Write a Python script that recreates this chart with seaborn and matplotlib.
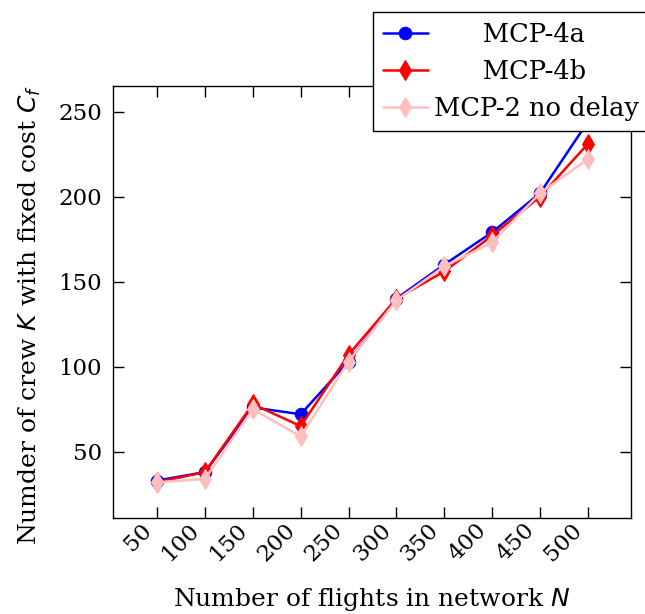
import matplotlib
matplotlib.use("Agg")
import matplotlib.pyplot as plt
import matplotlib.transforms as mtransforms
import seaborn as sns
import pandas as pd

flights = [50, 100, 150, 200, 250, 300, 350, 400, 450, 500]
mcp4a = [33, 38, 76, 72, 103, 140, 160, 179, 202, 244]
mcp4b = [32, 38, 78, 65, 107, 140, 156, 177, 200, 231]
mcp2 = [32, 34, 75, 59, 103, 139, 159, 173, 202, 222]
labels = ["MCP-4a", "MCP-4b", "MCP-2 no delay"]

sns.set_theme(style="white")
plt.rcParams['font.family'] = ['DejaVu Serif']
plt.rcParams['mathtext.fontset'] = 'dejavusans'
plt.rcParams['text.color'] = 'black'
plt.rcParams['axes.labelcolor'] = 'black'
plt.rcParams['xtick.color'] = 'black'
plt.rcParams['ytick.color'] = 'black'

fig = plt.figure(figsize=(6.45, 6.14), dpi=100)
ax = fig.add_axes([113/645, 1-518/614, (631-113)/645, (518-86)/614])

df = pd.DataFrame({"N": flights, labels[0]: mcp4a, labels[1]: mcp4b, labels[2]: mcp2})
styles = [
    (labels[0], "#0000ff", "o", 9),
    (labels[1], "#ff0000", "d", 10),
    (labels[2], "#ffbfbf", "d", 10),
]
for name, col, mk, ms in styles:
    sns.lineplot(data=df, x="N", y=name, ax=ax, color=col, marker=mk,
                 markersize=ms, markeredgecolor=col, linewidth=1.8, label=name)

ax.set_xlim(4, 545)
ax.set_ylim(11, 265)
ax.set_xticks(flights)
ax.set_xticklabels([str(v) for v in flights], rotation=45, ha="right",
                   va="center", rotation_mode="anchor", fontsize=16.5)
ax.set_yticks([50, 100, 150, 200, 250])
ax.set_yticklabels(["50", "100", "150", "200", "250"], fontsize=16.5)
ax.tick_params(axis="both", direction="in", length=8, width=1,
               top=True, right=True, bottom=True, left=True)
ax.tick_params(axis="x", pad=6.5)
ax.tick_params(axis="y", pad=8)
for tl in ax.xaxis.get_majorticklines() + ax.yaxis.get_majorticklines():
    tl.set_color("#808080")
off = mtransforms.ScaledTranslation(-9/100, 0, fig.dpi_scale_trans)
for lbl in ax.get_xticklabels():
    lbl.set_transform(lbl.get_transform() + off)
for s in ax.spines.values():
    s.set_color("black")
    s.set_linewidth(1.0)

ax.set_xlabel("Number of flights in network $N$", fontsize=18)
ax.set_ylabel("Numder of crew $K$ with fixed cost $C_f$", fontsize=18)
ax.xaxis.set_label_coords(0.5, -0.157)
ax.yaxis.set_label_coords(-0.135, 0.47)

leg = ax.legend(loc="upper left", bbox_to_anchor=(0.501, 1.171), fontsize=18.5,
                frameon=True, fancybox=False, edgecolor="black", framealpha=1,
                borderpad=0.4, labelspacing=0.45, handlelength=1.75,
                handletextpad=0.25, borderaxespad=0)
leg.get_frame().set_linewidth(1.0)
for t, pad in zip(leg.get_texts(), ["      ", "      ", ""]):
    t.set_text(pad + t.get_text())

fig.savefig("out.png", dpi=100)
